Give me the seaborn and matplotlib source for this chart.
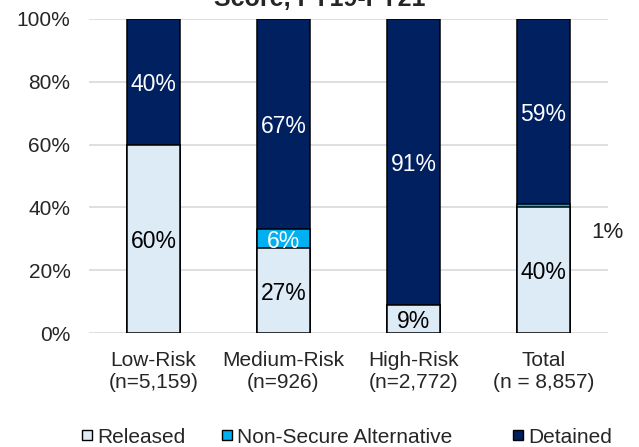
import numpy as np
import pandas as pd
import matplotlib
matplotlib.use("Agg")
import matplotlib.pyplot as plt
import seaborn as sns
from matplotlib.lines import Line2D

# values (percent)
categories = ["Low-Risk\n(n=5,159)", "Medium-Risk\n(n=926)", "High-Risk\n(n=2,772)", "Total\n(n = 8,857)"]
released = [60, 27, 9, 40]
non_secure = [0, 6, 0, 1]
detained = [40, 67, 91, 59]
series_names = ["Released", "Non-Secure Alternative", "Detained"]
colors = ["#DDEBF7", "#00B0F0", "#002060"]
label_colors = ["black", "white", "white"]

df = pd.DataFrame({"category": categories, "Released": released,
                   "Non-Secure Alternative": non_secure, "Detained": detained})
df["bottom_nsa"] = df["Released"]
df["bottom_det"] = df["Released"] + df["Non-Secure Alternative"]
df["top_rel"] = df["Released"]
df["top_nsa"] = df["bottom_det"]
df["top_det"] = df["bottom_det"] + df["Detained"]

sns.set_theme(style="white")
plt.rcParams["font.family"] = ["Liberation Sans", "DejaVu Sans"]
FS = 15

fig = plt.figure(figsize=(6.39, 4.47), dpi=100)
ax = fig.add_axes([0.1385, 0.255, 0.8135, 0.7025])

# stacked bars: draw cumulative heights, tallest first
for top_col, color in zip(["top_det", "top_nsa", "top_rel"], colors[::-1]):
    sns.barplot(data=df, x="category", y=top_col, color=color, width=0.41,
                edgecolor="black", linewidth=1.1, saturation=1, ax=ax, zorder=3)

# segment labels
bottoms = {"Released": [0] * 4, "Non-Secure Alternative": df["bottom_nsa"].tolist(),
           "Detained": df["bottom_det"].tolist()}
for name, lc in zip(series_names, label_colors):
    for i, v in enumerate(df[name]):
        if v <= 0:
            continue
        if name == "Non-Secure Alternative" and v < 3:
            # small slice labelled beside the bar
            ax.text(i + 0.49, 32.9, f"{v}%", ha="center", va="center_baseline",
                    fontsize=16, color="#222222", zorder=5)
            continue
        ax.text(i, bottoms[name][i] + v / 2, f"{v}%", ha="center", va="center_baseline",
                fontsize=16.5, color=lc, zorder=5)

ax.set_ylim(0, 100)
ax.set_xlim(-0.5, 3.5)
ax.set_yticks(np.arange(0, 101, 20))
ax.set_yticklabels([f"{t}%" for t in range(0, 101, 20)], fontsize=FS)
ax.set_xticks(range(4))
ax.set_xticklabels(categories, fontsize=FS)
ax.tick_params(axis="both", length=0)
ax.tick_params(axis="y", pad=13)
ax.tick_params(axis="x", pad=13)
ax.set_xlabel("")
ax.set_ylabel("")
ax.grid(axis="y", color="#D9D9D9", linewidth=1.2, zorder=0)
ax.set_axisbelow(True)
for s in ax.spines.values():
    s.set_visible(False)

# title, partly cut off at the top in the original
fig.text(0.50, 0.987, "Score, FY19-FY21", ha="center", va="baseline",
         fontsize=18, fontweight="bold")

# legend entries placed separately (uneven spacing as in the original)
legend_left = [80.75, 220.75, 511.75]
for name, c, xl in zip(series_names, colors, legend_left):
    h = Line2D([], [], marker="s", linestyle="none", markersize=7,
               markerfacecolor=c, markeredgecolor="black", markeredgewidth=1)
    fig.legend([h], [name], loc="center left", bbox_to_anchor=(xl / 639, 0.022),
               frameon=False, fontsize=FS, handletextpad=0.17, handlelength=0.6,
               borderpad=0, borderaxespad=0)

fig.savefig("out.png", dpi=100)
